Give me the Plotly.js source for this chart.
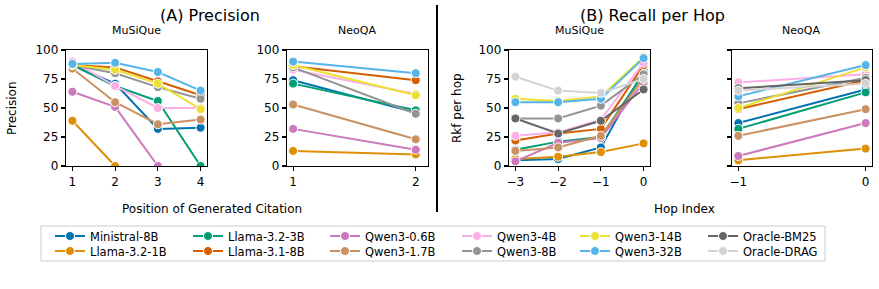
<!DOCTYPE html>
<html>
<head>
<meta charset="utf-8">
<script src="https://cdn.plot.ly/plotly-3.0.1.min.js"></script>
<style>html,body{margin:0;padding:0;background:#fff;}#chart{width:879px;height:289px;}</style>
</head>
<body>
<div id="chart"></div>
<script>
// ---------- data ----------
const models = ["Ministral-8B","Llama-3.2-1B","Llama-3.2-3B","Llama-3.1-8B","Qwen3-0.6B","Qwen3-1.7B","Qwen3-4B","Qwen3-8B","Qwen3-14B","Qwen3-32B","Oracle-BM25","Oracle-DRAG"];
const colors = ["#0173b2","#de8f05","#029e73","#d55e00","#cc78bc","#ca9161","#fbafe4","#949494","#ece133","#56b4e9","#666666","#d3d3d3"];

// (A) Precision, MuSiQue — position of generated citation
const precMusiqueX = [1, 2, 3, 4];
const precMusique = {
  "Ministral-8B": [87, 71, 32, 33],
  "Llama-3.2-1B": [39, 0],
  "Llama-3.2-3B": [87, 69, 56, 0],
  "Llama-3.1-8B": [87, 85, 73, 61],
  "Qwen3-0.6B":   [64, 51, 0],
  "Qwen3-1.7B":   [84, 55, 36, 40],
  "Qwen3-4B":     [90, 69, 50, 50],
  "Qwen3-8B":     [87, 80, 68, 58],
  "Qwen3-14B":    [87, 83, 71, 49],
  "Qwen3-32B":    [88, 89, 81, 65]
};
// (A) Precision, NeoQA
const precNeoX = [1, 2];
const precNeo = {
  "Ministral-8B": [74, 46],
  "Llama-3.2-1B": [13, 10],
  "Llama-3.2-3B": [71, 48],
  "Llama-3.1-8B": [86, 74],
  "Qwen3-0.6B":   [32, 14],
  "Qwen3-1.7B":   [53, 23],
  "Qwen3-4B":     [83, 62],
  "Qwen3-8B":     [85, 45],
  "Qwen3-14B":    [87, 61],
  "Qwen3-32B":    [90, 80]
};
// (B) Recall per hop, MuSiQue — hop index
const recMusiqueX = [-3, -2, -1, 0];
const recMusique = {
  "Ministral-8B": [5, 6, 16, 82],
  "Llama-3.2-1B": [6, 8, 12, 19.5],
  "Llama-3.2-3B": [14, 21, 25, 80],
  "Llama-3.1-8B": [22, 28, 32, 87],
  "Qwen3-0.6B":   [4, 20, 24, 72],
  "Qwen3-1.7B":   [13, 16, 26, 76],
  "Qwen3-4B":     [26, 29, 40, 89],
  "Qwen3-8B":     [41, 41, 52, 79],
  "Qwen3-14B":    [58, 56, 60, 94],
  "Qwen3-32B":    [55, 55, 58, 93],
  "Oracle-BM25":  [41, 28, 39, 66],
  "Oracle-DRAG":  [77, 65, 63, 75]
};
// (B) Recall per hop, NeoQA
const recNeoX = [-1, 0];
const recNeo = {
  "Ministral-8B": [37, 66],
  "Llama-3.2-1B": [5, 15],
  "Llama-3.2-3B": [32, 63.5],
  "Llama-3.1-8B": [49, 74],
  "Qwen3-0.6B":   [8.6, 37],
  "Qwen3-1.7B":   [26, 49],
  "Qwen3-4B":     [72, 79],
  "Qwen3-8B":     [54, 76],
  "Qwen3-14B":    [50, 85],
  "Qwen3-32B":    [60, 87],
  "Oracle-BM25":  [67, 74],
  "Oracle-DRAG":  [65, 71]
};
const yTicks = [0, 25, 50, 75, 100];

// ---------- helpers ----------
const W = 879, H = 289;
const px = v => v / W;
const py = v => 1 - v / H;
const FONT = "DejaVu Sans, sans-serif";

const panels = [
  {data: precMusique, x: precMusiqueX, xa: "x",  ya: "y"},
  {data: precNeo,     x: precNeoX,     xa: "x2", ya: "y2"},
  {data: recMusique,  x: recMusiqueX,  xa: "x3", ya: "y3", legend: true},
  {data: recNeo,      x: recNeoX,      xa: "x4", ya: "y4"}
];

const traces = [];
panels.forEach(p => {
  models.forEach((m, i) => {
    const vals = p.data[m];
    if (!vals) return;
    traces.push({
      type: "scatter", mode: "lines+markers", name: m,
      x: p.x.slice(0, vals.length), y: vals,
      xaxis: p.xa, yaxis: p.ya,
      line: {color: colors[i], width: 2},
      marker: {color: colors[i], size: 9, line: {color: "#ffffff", width: 1}},
      showlegend: !!p.legend,
      legend: i === 0 ? "legend" : "legend" + (i + 1),
      hoverinfo: "skip"
    });
  });
});

function axis(domain, range, tickvals, showlabels) {
  return {
    domain: domain, range: range, tickvals: tickvals,
    showticklabels: showlabels !== false,
    ticks: "outside", ticklen: 4, tickwidth: 1.25, tickcolor: "#000",
    showline: true, linecolor: "#000", linewidth: 1.25, mirror: true,
    showgrid: false, zeroline: false,
    tickfont: {family: FONT, size: 12, color: "#000"}
  };
}
const yDom = [py(166), py(50)];

const layout = {
  width: W, height: H, autosize: false,
  margin: {l: 0, r: 0, t: 0, b: 0},
  paper_bgcolor: "#fff", plot_bgcolor: "#fff",
  font: {family: FONT, color: "#000"},
  xaxis:  axis([px(66), px(207)], [0.85, 4.15], precMusiqueX),
  yaxis:  axis(yDom, [0, 100], yTicks),
  xaxis2: Object.assign(axis([px(287), px(428)], [0.95, 2.1], precNeoX), {anchor: "y2"}),
  yaxis2: Object.assign(axis(yDom, [0, 100], yTicks), {anchor: "x2"}),
  xaxis3: Object.assign(axis([px(509), px(650)], [-3.15, 0.15], recMusiqueX), {anchor: "y3"}),
  yaxis3: Object.assign(axis(yDom, [0, 100], yTicks), {anchor: "x3"}),
  xaxis4: Object.assign(axis([px(732), px(872)], [-1.05, 0.05], recNeoX), {anchor: "y4"}),
  yaxis4: Object.assign(axis(yDom, [0, 100], yTicks, false), {anchor: "x4"}),
  annotations: [],
  shapes: [
    {type: "line", xref: "paper", yref: "paper", x0: px(437), x1: px(437), y0: py(212), y1: py(5), line: {color: "#000", width: 2}},
    {type: "rect", xref: "paper", yref: "paper", x0: px(41), x1: px(825), y0: py(261), y1: py(226), line: {color: "#cccccc", width: 1}}
  ]
};
layout.xaxis.anchor = "y";
layout.yaxis.anchor = "x";

function ann(text, x, y, size, angle) {
  layout.annotations.push({text: text, x: px(x), y: py(y), xref: "paper", yref: "paper",
    xanchor: "center", yanchor: "middle", showarrow: false, textangle: angle || 0,
    font: {family: FONT, size: size, color: "#000"}});
}
ann("(A) Precision", 210, 15, 16);
ann("(B) Recall per Hop", 652, 15, 16);
ann("MuSiQue", 136.5, 31, 11);
ann("NeoQA", 357, 31, 11);
ann("MuSiQue", 579, 31, 11);
ann("NeoQA", 801, 31, 11);
ann("Position of Generated Citation", 212, 209, 12);
ann("Hop Index", 684, 209, 12);
ann("Precision", 12, 108, 12, -90);
ann("Rkf per hop", 457, 108, 12, -90);

// legends: 6 columns x 2 rows, column-major, one legend per entry
const colStart = [55, 193, 330, 462, 580, 708];
const rowY = [236, 251];
models.forEach((m, i) => {
  const col = Math.floor(i / 2), row = i % 2;
  const key = i === 0 ? "legend" : "legend" + (i + 1);
  layout[key] = {
    x: px(colStart[col] - 5), y: py(rowY[row]), xanchor: "left", yanchor: "middle",
    xref: "paper", yref: "paper",
    bgcolor: "rgba(0,0,0,0)", borderwidth: 0,
    font: {family: FONT, size: 11.5, color: "#000"},
    itemwidth: 30
  };
});

Plotly.newPlot("chart", traces, layout, {displayModeBar: false, staticPlot: true});
</script>
</body>
</html>
